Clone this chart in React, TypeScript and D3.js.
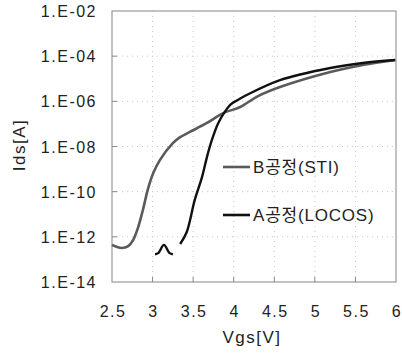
import { useEffect, useRef } from "react";
import * as d3 from "d3";

// B공정 (STI)
const vgsB = [2.5, 2.62, 2.7, 2.76, 2.82, 2.88, 2.91, 2.94, 3.01, 3.09, 3.25, 3.34, 3.46, 3.67, 3.87, 4.08, 4.3, 4.57, 5.19, 5.59, 5.99];
const idsB = [4.4e-13, 3.2e-13, 3.9e-13, 7.2e-13, 2.5e-12, 1.5e-11, 4.3e-11, 1.2e-10, 6.8e-10, 2.5e-9, 1.4e-8, 2.6e-8, 4.4e-8, 1.1e-7, 3.0e-7, 5.6e-7, 1.7e-6, 4.3e-6, 2.0e-5, 4.1e-5, 6.8e-5];

// A공정 (LOCOS), null = gap
const vgsA = [3.03, 3.07, 3.14, 3.21, 3.25, 3.3, 3.34, 3.42, 3.52, 3.61, 3.67, 3.73, 3.81, 3.89, 3.96, 4.05, 4.16, 4.57, 5.19, 5.59, 5.99];
const idsA = [1.7e-13, 1.9e-13, 4.4e-13, 1.9e-13, 1.7e-13, null, 4.8e-13, 1.6e-12, 4.3e-11, 4.5e-10, 3.4e-9, 1.9e-8, 1.1e-7, 3.4e-7, 7.2e-7, 1.15e-6, 1.9e-6, 8.7e-6, 3.0e-5, 5.0e-5, 6.8e-5];

const xTicks = [2.5, 3, 3.5, 4, 4.5, 5, 5.5, 6];
const yTicks = [1e-2, 1e-4, 1e-6, 1e-8, 1e-10, 1e-12, 1e-14];
const yTickLabels = ["1.E-02", "1.E-04", "1.E-06", "1.E-08", "1.E-10", "1.E-12", "1.E-14"];

const seriesNames = ["B공정(STI)", "A공정(LOCOS)"];
const seriesColors = ["#5a5a5a", "#111111"];

const W = 402;
const H = 355;
const font = "'Liberation Sans', 'Noto Sans CJK KR', sans-serif";

export default function App() {
  const svgRef = useRef<SVGSVGElement>(null);

  useEffect(() => {
    if (!svgRef.current) return;
    const svg = d3.select(svgRef.current);
    svg.selectAll("*").remove();

    const left = 112, right = 396, top = 11, bottom = 282;
    const x = d3.scaleLinear().domain([2.5, 6]).range([left, right]);
    const y = d3.scaleLog().domain([1e-14, 1e-2]).range([bottom, top]);

    // dotted grid
    const grid = svg.append("g").attr("stroke", "#c8c8c8").attr("stroke-dasharray", "1,4");
    xTicks.slice(1, -1).forEach((t) => {
      grid.append("line").attr("x1", x(t)).attr("x2", x(t)).attr("y1", top).attr("y2", bottom);
    });
    yTicks.slice(1, -1).forEach((t) => {
      grid.append("line").attr("x1", left).attr("x2", right).attr("y1", y(t)).attr("y2", y(t));
    });

    // frame
    svg.append("rect")
      .attr("x", left).attr("y", top)
      .attr("width", right - left).attr("height", bottom - top)
      .attr("fill", "none").attr("stroke", "#9a9a9a").attr("stroke-width", 1.2);

    // inner ticks
    const ticks = svg.append("g").attr("stroke", "#888");
    xTicks.slice(1, -1).forEach((t) => {
      ticks.append("line").attr("x1", x(t)).attr("x2", x(t)).attr("y1", bottom).attr("y2", bottom - 5);
    });
    yTicks.slice(1, -1).forEach((t) => {
      ticks.append("line").attr("x1", left).attr("x2", left + 5).attr("y1", y(t)).attr("y2", y(t));
    });

    // tick labels
    yTicks.forEach((t, i) => {
      svg.append("text")
        .attr("x", 97).attr("y", y(t) + 6)
        .attr("text-anchor", "end")
        .attr("font-family", font).attr("font-size", 16)
        .attr("letter-spacing", 1.5)
        .attr("fill", "#222")
        .text(yTickLabels[i]);
    });
    xTicks.forEach((t) => {
      svg.append("text")
        .attr("x", x(t) + 1).attr("y", 317)
        .attr("text-anchor", "middle")
        .attr("font-family", font).attr("font-size", 16)
        .attr("letter-spacing", 1.5)
        .attr("fill", "#222")
        .text(String(t));
    });

    // axis titles
    svg.append("text")
      .attr("x", 252).attr("y", 343)
      .attr("text-anchor", "middle")
      .attr("font-family", font).attr("font-size", 17)
      .attr("letter-spacing", 1.5)
      .attr("fill", "#222")
      .text("Vgs[V]");
    svg.append("text")
      .attr("transform", `translate(25,145) rotate(-90)`)
      .attr("text-anchor", "middle")
      .attr("font-family", font).attr("font-size", 17)
      .attr("letter-spacing", 1.5)
      .attr("fill", "#222")
      .text("Ids[A]");

    // curves
    const line = d3.line<[number, number | null]>()
      .defined((d) => d[1] !== null)
      .x((d) => x(d[0]))
      .y((d) => y(d[1] as number))
      .curve(d3.curveCatmullRom.alpha(0.5));

    const dataB = vgsB.map((v, i) => [v, idsB[i]] as [number, number | null]);
    const dataA = vgsA.map((v, i) => [v, idsA[i]] as [number, number | null]);

    svg.append("path").datum(dataB)
      .attr("fill", "none").attr("stroke", seriesColors[0])
      .attr("stroke-width", 2.6).attr("stroke-linejoin", "round")
      .attr("d", line);
    svg.append("path").datum(dataA)
      .attr("fill", "none").attr("stroke", seriesColors[1])
      .attr("stroke-width", 2.4).attr("stroke-linejoin", "round")
      .attr("d", line);

    // legend
    const legendY = [167, 215];
    seriesNames.forEach((name, i) => {
      svg.append("line")
        .attr("x1", 223).attr("x2", 250)
        .attr("y1", legendY[i]).attr("y2", legendY[i])
        .attr("stroke", seriesColors[i]).attr("stroke-width", 2.6);
      svg.append("text")
        .attr("x", 253).attr("y", legendY[i] + 6)
        .attr("font-family", font).attr("font-size", 17)
        .attr("letter-spacing", 0.8)
        .attr("fill", "#222")
        .text(name);
    });
  }, []);

  return (
    <svg
      ref={svgRef}
      width={W}
      height={H}
      style={{ position: "absolute", left: 0, top: 0, background: "#fff" }}
    />
  );
}
